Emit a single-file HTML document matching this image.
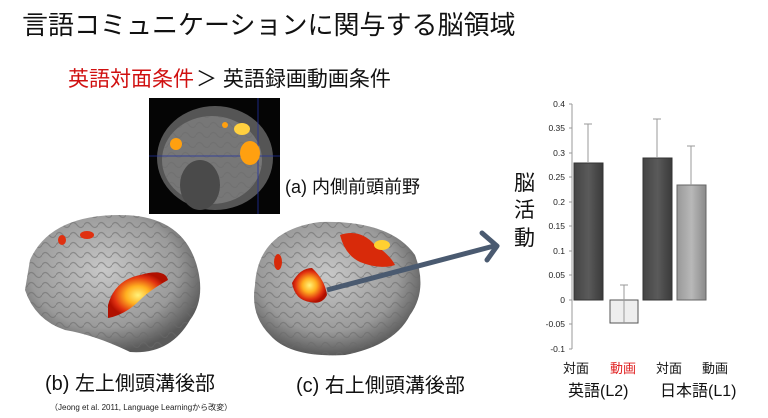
<!DOCTYPE html>
<html><head><meta charset="utf-8"><style>
body{margin:0;width:768px;height:418px;background:#fff;overflow:hidden}
svg{display:block}
text{font-family:"Liberation Sans","Noto Sans CJK JP",sans-serif}
</style></head><body>
<svg width="768" height="418" viewBox="0 0 768 418">
<defs>
<radialGradient id="br" cx="45%" cy="40%" r="60%"><stop offset="0" stop-color="#c8c8c8"/><stop offset="0.7" stop-color="#9a9a9a"/><stop offset="1" stop-color="#5a5a5a"/></radialGradient>
<radialGradient id="hot" cx="50%" cy="50%" r="50%"><stop offset="0" stop-color="#fff27a"/><stop offset="0.4" stop-color="#ffb020"/><stop offset="0.8" stop-color="#e03010"/><stop offset="1" stop-color="#b01000"/></radialGradient>
<linearGradient id="dk" x1="0" x2="1"><stop offset="0" stop-color="#444"/><stop offset="0.5" stop-color="#5a5a5a"/><stop offset="1" stop-color="#3a3a3a"/></linearGradient>
<linearGradient id="lg" x1="0" x2="1"><stop offset="0" stop-color="#999"/><stop offset="0.5" stop-color="#b8b8b8"/><stop offset="1" stop-color="#8a8a8a"/></linearGradient>
<pattern id="gy" width="14" height="10" patternUnits="userSpaceOnUse"><path d="M0 5 Q3 0 7 5 T14 5" fill="none" stroke="#6a6a6a" stroke-width="1.2"/></pattern>
</defs>
<text x="22" y="34" font-size="26" fill="#111">言語コミュニケーションに関与する脳領域</text>
<text x="68" y="86" font-size="21" fill="#d01010">英語対面条件</text>
<text x="196" y="86" font-size="21" fill="#111">＞ 英語録画動画条件</text>

<!-- sagittal -->
<rect x="149" y="98" width="131" height="116" fill="#050505"/>
<ellipse cx="215" cy="158" rx="58" ry="52" fill="#555"/>
<ellipse cx="212" cy="160" rx="50" ry="44" fill="#777"/>
<ellipse cx="212" cy="160" rx="50" ry="44" fill="url(#gy)" opacity="0.5"/>
<ellipse cx="200" cy="185" rx="20" ry="25" fill="#4a4a4a"/>
<line x1="149" y1="156" x2="280" y2="156" stroke="#2030a0" stroke-width="0.8"/>
<line x1="258" y1="98" x2="258" y2="214" stroke="#2030a0" stroke-width="0.8"/>
<ellipse cx="242" cy="129" rx="8" ry="6" fill="#ffd040"/>
<ellipse cx="250" cy="153" rx="10" ry="12" fill="#ffa010"/>
<ellipse cx="176" cy="144" rx="6" ry="6" fill="#ffa010"/>
<ellipse cx="225" cy="125" rx="3" ry="3" fill="#ffa010"/>
<text x="285" y="193" font-size="18" fill="#111">(a) 内側前頭前野</text>

<!-- left brain -->
<path d="M30 260 Q50 215 120 215 Q185 215 198 270 Q205 300 190 320 Q170 355 130 352 Q95 335 65 330 Q35 320 25 290 Z" fill="url(#br)"/>
<path d="M30 260 Q50 215 120 215 Q185 215 198 270 Q205 300 190 320 Q170 355 130 352 Q95 335 65 330 Q35 320 25 290 Z" fill="url(#gy)" opacity="0.55"/>
<path d="M108 305 Q115 280 140 275 Q165 268 168 280 Q150 290 140 300 Q125 315 108 318 Z" fill="url(#hot)"/>
<ellipse cx="87" cy="235" rx="7" ry="4" fill="#e03010"/>
<ellipse cx="62" cy="240" rx="4" ry="5" fill="#e03010"/>
<text x="45" y="390" font-size="20" fill="#111">(b) 左上側頭溝後部</text>
<text x="50" y="410" font-size="8" fill="#222">（Jeong et al. 2011, Language Learningから改変）</text>

<!-- right brain -->
<path d="M255 285 Q258 230 320 222 Q390 220 415 255 Q428 290 410 315 Q395 345 345 355 Q290 358 270 335 Q250 315 255 285 Z" fill="url(#br)"/>
<path d="M255 285 Q258 230 320 222 Q390 220 415 255 Q428 290 410 315 Q395 345 345 355 Q290 358 270 335 Q250 315 255 285 Z" fill="url(#gy)" opacity="0.55"/>
<path d="M292 283 Q300 268 312 268 Q325 280 327 295 Q322 305 310 302 Q295 300 292 283 Z" fill="url(#hot)"/>
<path d="M340 235 Q360 228 375 245 Q390 255 395 265 Q380 270 360 262 Q345 255 340 235 Z" fill="#d82a0a"/>
<ellipse cx="382" cy="245" rx="8" ry="5" fill="#ffd030"/>
<ellipse cx="278" cy="262" rx="4" ry="8" fill="#d82a0a"/>
<text x="296" y="392" font-size="20" fill="#111">(c) 右上側頭溝後部</text>

<!-- arrow -->
<line x1="327" y1="290" x2="494" y2="246" stroke="#4a5a70" stroke-width="5"/>
<polyline points="482,233 497,246 487,260" fill="none" stroke="#4a5a70" stroke-width="5" stroke-linecap="round" stroke-linejoin="round"/>

<!-- chart -->
<text font-size="21" fill="#111"><tspan x="514" y="190">脳</tspan><tspan x="514" y="217">活</tspan><tspan x="514" y="245">動</tspan></text>
<g font-size="8.5" fill="#222" text-anchor="end">
<text x="565" y="107">0.4</text><text x="565" y="131">0.35</text><text x="565" y="156">0.3</text><text x="565" y="180">0.25</text><text x="565" y="205">0.2</text><text x="565" y="229">0.15</text><text x="565" y="254">0.1</text><text x="565" y="278">0.05</text><text x="565" y="303">0</text><text x="565" y="327">-0.05</text><text x="565" y="352">-0.1</text>
</g>
<line x1="572" y1="104" x2="572" y2="349" stroke="#999"/>
<g stroke="#999"><line x1="569" y1="104" x2="572" y2="104"/><line x1="569" y1="128" x2="572" y2="128"/><line x1="569" y1="153" x2="572" y2="153"/><line x1="569" y1="177" x2="572" y2="177"/><line x1="569" y1="202" x2="572" y2="202"/><line x1="569" y1="226" x2="572" y2="226"/><line x1="569" y1="251" x2="572" y2="251"/><line x1="569" y1="275" x2="572" y2="275"/><line x1="569" y1="300" x2="572" y2="300"/><line x1="569" y1="324" x2="572" y2="324"/><line x1="569" y1="349" x2="572" y2="349"/></g>
<rect x="574" y="163" width="29" height="137" fill="url(#dk)" stroke="#333"/>
<rect x="610" y="300" width="28" height="23" fill="#eee" stroke="#555"/>
<rect x="643" y="158" width="29" height="142" fill="url(#dk)" stroke="#333"/>
<rect x="677" y="185" width="29" height="115" fill="url(#lg)" stroke="#666"/>
<g stroke="#999" stroke-width="1">
<line x1="588" y1="124" x2="588" y2="163"/><line x1="584" y1="124" x2="592" y2="124"/>
<line x1="624" y1="285" x2="624" y2="323"/><line x1="620" y1="285" x2="628" y2="285"/>
<line x1="657" y1="119" x2="657" y2="158"/><line x1="653" y1="119" x2="661" y2="119"/>
<line x1="691" y1="146" x2="691" y2="185"/><line x1="687" y1="146" x2="695" y2="146"/>
</g>
<g font-size="13">
<text x="563" y="373" fill="#111">対面</text><text x="610" y="373" fill="#e02020">動画</text><text x="656" y="373" fill="#111">対面</text><text x="702" y="373" fill="#111">動画</text>
</g>
<g font-size="16" fill="#111"><text x="568" y="396">英語(L2)</text><text x="660" y="396">日本語(L1)</text></g>
</svg>
</body></html>
